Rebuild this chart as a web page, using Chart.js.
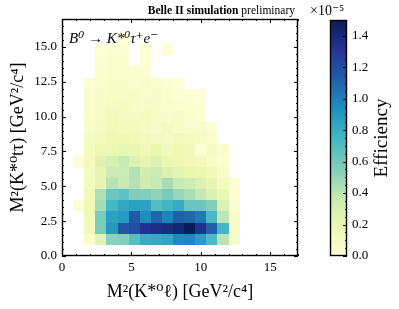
<!DOCTYPE html>
<html>
<head>
<meta charset="utf-8">
<script src="https://cdn.jsdelivr.net/npm/chart.js@4.4.0/dist/chart.umd.min.js"></script>
<style>
  body { margin: 0; background: #fff; }
  #wrap { position: relative; width: 399px; height: 309px; }
  #heat { position: absolute; left: 0; top: 0; }
  #bar { position: absolute; left: 300px; top: 0; }
</style>
</head>
<body>
<div id="wrap">
  <canvas id="heat" width="320" height="309"></canvas>
  <canvas id="bar" width="99" height="309"></canvas>
</div>
<script>
var _ = null;
var binWidth = 0.8;
var effMax = 1.5;
var xTicks = [0, 5, 10, 15];
var yTicks = [0, 2.5, 5, 7.5, 10, 12.5, 15];
var cbarTicks = [0, 0.2, 0.4, 0.6, 0.8, 1.0, 1.2, 1.4];

// efficiency (x1e-5), one row per y bin (from 0), one entry per x bin (from 0)
var efficiency = [
  [_, _, _, _, _, _, _, _, _, _, _, _, _, _, _, _],
  [_, _, 0.08, 0.24, 0.53, 0.55, 0.68, 0.80, 0.81, 0.84, 0.96, 0.97, 0.88, 0.71, 0.41, 0.08],
  [_, _, 0.14, 0.57, 0.90, 1.16, 1.20, 1.33, 1.35, 1.38, 1.42, 1.50, 1.33, 1.12, 0.74, 0.08],
  [_, _, 0.17, 0.58, 0.86, 0.89, 1.15, 0.95, 1.10, 0.98, 1.12, 1.10, 1.03, 0.73, 0.40, 0.07],
  [_, 0.03, 0.17, 0.46, 0.74, 0.83, 0.86, 0.86, 0.69, 0.75, 0.80, 0.62, 0.62, 0.56, 0.27, 0.05],
  [_, _, 0.15, 0.44, 0.62, 0.66, 0.56, 0.55, 0.52, 0.58, 0.50, 0.45, 0.38, 0.27, 0.20, 0.04],
  [_, _, 0.13, 0.22, 0.42, 0.36, 0.42, 0.32, 0.37, 0.46, 0.37, 0.33, 0.28, 0.22, 0.12, 0.04],
  [_, _, 0.12, 0.22, 0.35, 0.35, 0.43, 0.33, 0.35, 0.28, 0.24, 0.20, 0.19, 0.15, 0.08, _],
  [_, 0.04, 0.13, 0.25, 0.30, 0.36, 0.27, 0.22, 0.27, 0.19, 0.18, 0.15, 0.14, 0.08, 0.05, _],
  [_, _, 0.12, 0.19, 0.19, 0.21, 0.20, 0.16, 0.20, 0.14, 0.18, 0.16, 0.03, 0.10, 0.06, _],
  [_, _, 0.10, 0.13, 0.18, 0.18, 0.16, 0.14, 0.11, 0.10, 0.14, 0.12, 0.09, 0.06, _, _],
  [_, _, 0.08, 0.10, 0.15, 0.13, 0.13, 0.10, 0.07, 0.12, 0.08, 0.06, 0.08, 0.04, _, _],
  [_, _, 0.06, 0.09, 0.14, 0.11, 0.10, 0.12, 0.08, 0.07, 0.09, 0.05, 0.04, _, _, _],
  [_, _, 0.05, 0.08, 0.10, 0.12, 0.09, 0.07, 0.08, 0.06, 0.05, 0.04, 0.03, _, _, _],
  [_, _, 0.05, 0.07, 0.09, 0.08, 0.10, 0.06, 0.07, 0.05, 0.04, 0.03, 0.02, _, _, _],
  [_, _, 0.04, 0.06, 0.07, 0.08, 0.06, 0.07, 0.05, 0.04, 0.03, _, _, _, _, _],
  [_, _, _, 0.05, 0.06, 0.06, 0.05, 0.04, _, _, _, _, _, _, _, _],
  [_, _, _, 0.04, 0.05, 0.05, _, 0.03, _, _, _, _, _, _, _, _],
  [_, _, _, 0.03, 0.04, 0.04, _, 0.03, _, 0.02, _, _, _, _, _, _],
  [_, _, _, _, _, 0.03, _, _, _, _, _, _, _, _, _, _]
];

// YlGnBu
var ylgnbu = ['#ffffd9', '#edf8b1', '#c7e9b4', '#7fcdbb', '#41b6c4', '#1d91c0', '#225ea8', '#253494', '#081d58'];

function hexRgb(h) {
  return [parseInt(h.substr(1, 2), 16), parseInt(h.substr(3, 2), 16), parseInt(h.substr(5, 2), 16)];
}
function cmap(t) {
  t = Math.max(0, Math.min(1, t));
  var p = t * (ylgnbu.length - 1);
  var k = Math.min(Math.floor(p), ylgnbu.length - 2);
  var f = p - k;
  var a = hexRgb(ylgnbu[k]), b = hexRgb(ylgnbu[k + 1]);
  return 'rgb(' + Math.round(a[0] + (b[0] - a[0]) * f) + ',' +
    Math.round(a[1] + (b[1] - a[1]) * f) + ',' +
    Math.round(a[2] + (b[2] - a[2]) * f) + ')';
}

var cells = [];
for (var j = 0; j < efficiency.length; j++) {
  for (var i = 0; i < efficiency[j].length; i++) {
    if (efficiency[j][i] !== null) {
      cells.push({ x: (i + 0.5) * binWidth, y: (j + 0.5) * binWidth, v: efficiency[j][i] });
    }
  }
}

var serif = "'Liberation Serif', 'DejaVu Serif', serif";

function tickValues(min, max, step) {
  var out = [];
  for (var v = min; v <= max + 1e-9; v += step) out.push(v);
  return out;
}

const heatPlugin = {
  id: 'heatCells',
  beforeDatasetsDraw(chart) {
    const ctx = chart.ctx, xs = chart.scales.x, ys = chart.scales.y;
    const a = chart.chartArea;
    ctx.save();
    ctx.beginPath();
    ctx.rect(a.left, a.top, a.right - a.left, a.bottom - a.top);
    ctx.clip();
    chart.data.datasets[0].data.forEach(function (p) {
      const x0 = Math.round(xs.getPixelForValue(p.x - binWidth / 2));
      const x1 = Math.round(xs.getPixelForValue(p.x + binWidth / 2));
      const y0 = Math.round(ys.getPixelForValue(p.y + binWidth / 2));
      const y1 = Math.round(ys.getPixelForValue(p.y - binWidth / 2));
      ctx.fillStyle = cmap(p.v / effMax);
      ctx.fillRect(x0, y0, x1 - x0, y1 - y0);
    });
    ctx.restore();
  },
  afterDraw(chart) {
    const ctx = chart.ctx, xs = chart.scales.x, ys = chart.scales.y;
    const a = chart.chartArea;
    ctx.save();
    ctx.strokeStyle = '#000';
    ctx.lineWidth = 1;
    ctx.beginPath();
    tickValues(0, 17, 1).forEach(function (v) {
      const px = Math.round(xs.getPixelForValue(v)) + 0.5;
      const len = (v % 5 === 0) ? 4 : 2;
      ctx.moveTo(px, a.bottom); ctx.lineTo(px, a.bottom - len);
      ctx.moveTo(px, a.top); ctx.lineTo(px, a.top + len);
    });
    tickValues(0, 17, 0.5).forEach(function (v) {
      const py = Math.round(ys.getPixelForValue(v)) + 0.5;
      const len = (Math.abs(v / 2.5 - Math.round(v / 2.5)) < 1e-6) ? 4 : 2;
      ctx.moveTo(a.left, py); ctx.lineTo(a.left + len, py);
      ctx.moveTo(a.right, py); ctx.lineTo(a.right - len, py);
    });
    ctx.stroke();
    ctx.lineWidth = 1.4;
    ctx.strokeRect(a.left + 0.5, a.top + 0.5, a.right - a.left - 1, a.bottom - a.top - 1);

    ctx.fillStyle = '#000';
    ctx.font = 'italic 15px ' + serif;
    ctx.textBaseline = 'alphabetic';
    ctx.textAlign = 'left';
    ctx.fillText('B⁰ → K*⁰τ⁺e⁻', a.left + 7, a.top + 24);

    ctx.textAlign = 'right';
    ctx.font = '11.5px ' + serif;
    const pre = ' preliminary';
    ctx.fillText(pre, a.right - 3, 14);
    const w = ctx.measureText(pre).width;
    ctx.font = 'bold 11.5px ' + serif;
    ctx.fillText('Belle II simulation', a.right - 3 - w, 14);
    ctx.restore();
  }
};

new Chart(document.getElementById('heat'), {
  type: 'scatter',
  data: {
    datasets: [{
      label: 'Efficiency',
      data: cells,
      pointRadius: 0,
      pointHoverRadius: 0
    }]
  },
  options: {
    responsive: false,
    animation: false,
    events: [],
    layout: { padding: { top: 19, right: 22, left: 0, bottom: 0 } },
    plugins: { legend: { display: false }, tooltip: { enabled: false } },
    scales: {
      x: {
        type: 'linear',
        min: 0,
        max: 17,
        afterBuildTicks: function (s) { s.ticks = xTicks.map(function (v) { return { value: v }; }); },
        afterFit: function (s) { s.height = 53; },
        grid: { display: false, drawTicks: false },
        border: { display: false },
        ticks: { color: '#000', padding: 4, font: { family: serif, size: 13 }, callback: function (v) { return String(v); } },
        title: { display: true, text: 'M²(K*⁰ℓ) [GeV²/c⁴]', color: '#000', padding: { top: 0, bottom: 6 }, font: { family: serif, size: 18 } }
      },
      y: {
        type: 'linear',
        min: 0,
        max: 17,
        afterBuildTicks: function (s) { s.ticks = yTicks.map(function (v) { return { value: v }; }); },
        afterFit: function (s) { s.width = 62; },
        grid: { display: false, drawTicks: false },
        border: { display: false },
        ticks: { color: '#000', padding: 5, font: { family: serif, size: 13 }, callback: function (v) { return v.toFixed(1); } },
        title: { display: true, text: 'M²(K*⁰tτ) [GeV²/c⁴]', color: '#000', padding: { top: 7, bottom: 0 }, font: { family: serif, size: 18 } }
      }
    }
  },
  plugins: [heatPlugin]
});

const cbarPlugin = {
  id: 'cbarFrame',
  afterDraw(chart) {
    const ctx = chart.ctx, ys = chart.scales.y;
    const a = chart.chartArea;
    ctx.save();
    ctx.strokeStyle = '#000';
    ctx.lineWidth = 1;
    ctx.beginPath();
    tickValues(0, 1.5, 0.05).forEach(function (v) {
      const py = Math.round(ys.getPixelForValue(v)) + 0.5;
      const major = Math.abs(v / 0.2 - Math.round(v / 0.2)) < 1e-6;
      const len = major ? 4 : 2;
      ctx.moveTo(a.right, py); ctx.lineTo(a.right - len, py);
    });
    ctx.stroke();
    ctx.lineWidth = 1.4;
    ctx.strokeRect(a.left + 0.5, a.top + 0.5, a.right - a.left - 1, a.bottom - a.top - 1);

    ctx.fillStyle = '#000';
    ctx.font = '14px ' + serif;
    ctx.textAlign = 'left';
    ctx.textBaseline = 'alphabetic';
    ctx.fillText('×10⁻⁵', 10, 15);

    ctx.font = '19px ' + serif;
    ctx.translate(82, (a.top + a.bottom) / 2);
    ctx.rotate(-Math.PI / 2);
    ctx.textAlign = 'center';
    ctx.textBaseline = 'middle';
    ctx.fillText('Efficiency', 0, 0);
    ctx.restore();
  }
};

new Chart(document.getElementById('bar'), {
  type: 'bar',
  data: {
    labels: ['Efficiency'],
    datasets: [{
      data: [[0, effMax]],
      borderWidth: 0,
      barPercentage: 1,
      categoryPercentage: 1,
      backgroundColor: function (c) {
        const a = c.chart.chartArea;
        if (!a) return ylgnbu[4];
        const g = c.chart.ctx.createLinearGradient(0, a.bottom, 0, a.top);
        ylgnbu.forEach(function (col, k) { g.addColorStop(k / (ylgnbu.length - 1), col); });
        return g;
      }
    }]
  },
  options: {
    responsive: false,
    animation: false,
    events: [],
    layout: { padding: { top: 20, left: 30, right: 0, bottom: 53 } },
    plugins: { legend: { display: false }, tooltip: { enabled: false } },
    scales: {
      x: { display: false },
      y: {
        position: 'right',
        min: 0,
        max: effMax,
        afterBuildTicks: function (s) { s.ticks = cbarTicks.map(function (v) { return { value: v }; }); },
        afterFit: function (s) { s.width = 52; },
        grid: { display: false, drawTicks: false },
        border: { display: false },
        ticks: { color: '#000', padding: 5, font: { family: serif, size: 13 }, callback: function (v) { return v.toFixed(1); } }
      }
    }
  },
  plugins: [cbarPlugin]
});
</script>
</body>
</html>
